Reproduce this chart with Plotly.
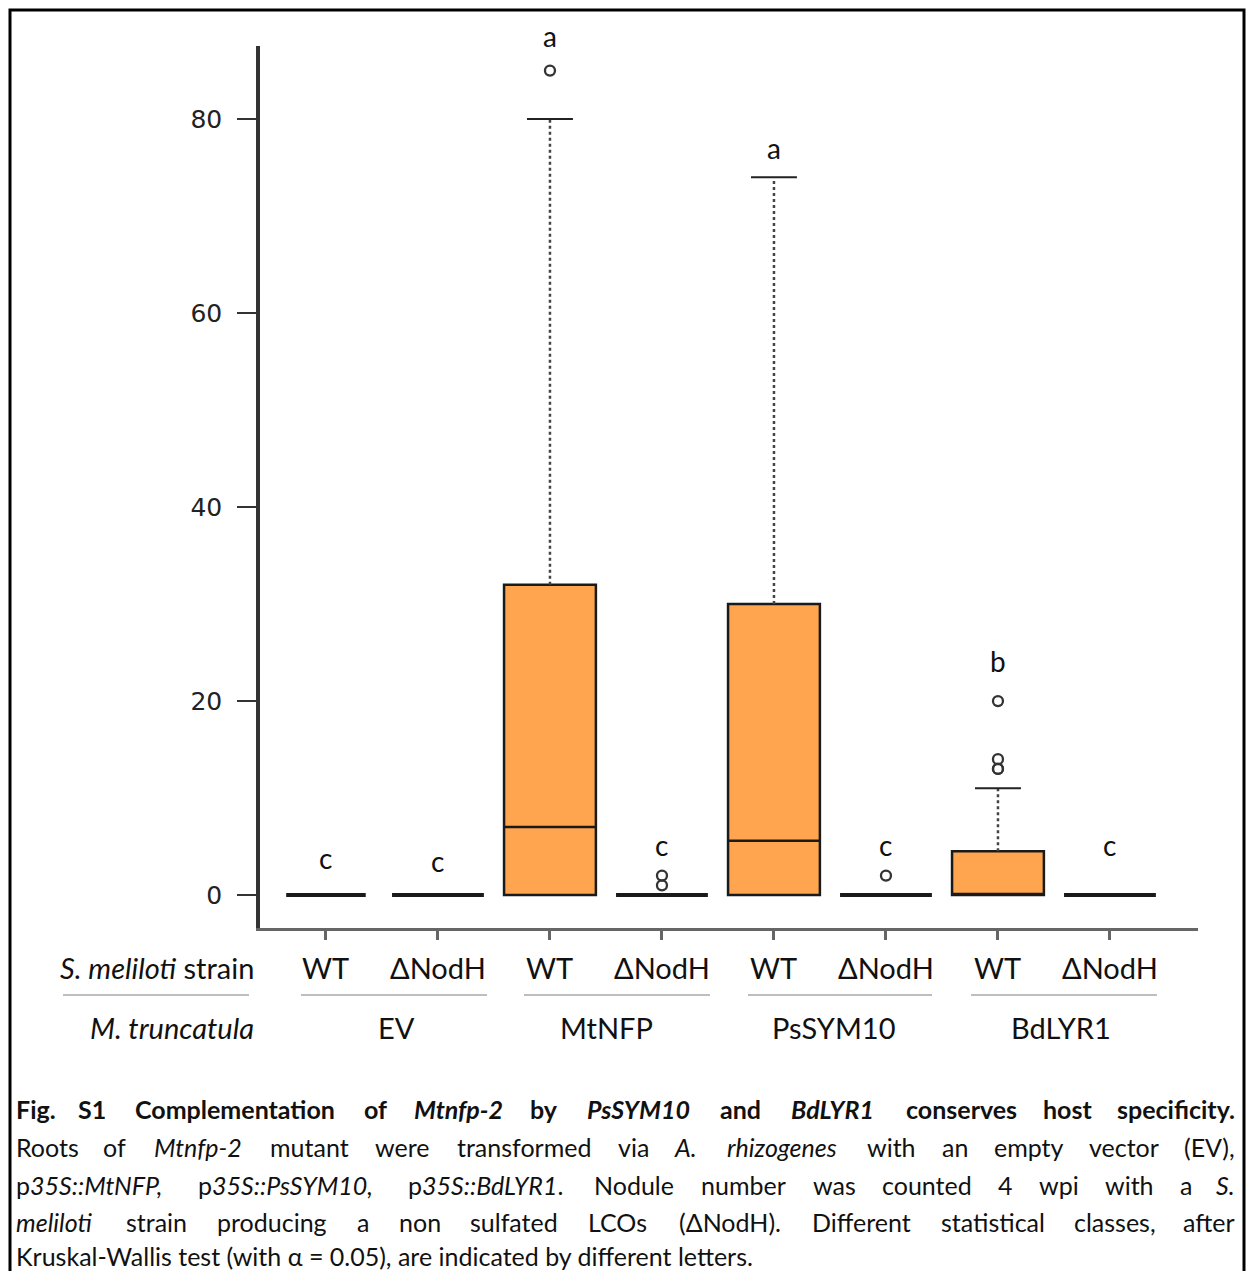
import re
import plotly.graph_objects as go

# ---------------- data ----------------
strains = ["WT", "ΔNodH", "WT", "ΔNodH", "WT", "ΔNodH", "WT", "ΔNodH"]
constructs = ["EV", "MtNFP", "PsSYM10", "BdLYR1"]
q1 = [0, 0, 0, 0, 0, 0, 0, 0]
median = [0, 0, 7, 0, 5.6, 0, 0, 0]
q3 = [0, 0, 32, 0, 30, 0, 4.5, 0]
upper_whisker = [0, 0, 80, 0, 74, 0, 11, 0]
outliers = [[], [], [85], [1, 2], [], [2], [13, 13, 14, 20], []]
letters = ["c", "c", "a", "c", "a", "c", "b", "c"]
y_ticks = [0, 20, 40, 60, 80]

# ---------------- layout helpers ----------------
W, H = 1247, 1271
L, R, T, B = 260, 49, 46, 343
PW, PH = W - L - R, H - T - B
YMIN, YMAX = -3.40, 87.53
def px(x):
    return (x - L) / PW
def py(y):
    return (H - B - y) / PH
def ydata_to_paper(v):
    return (v - YMIN) / (YMAX - YMIN)

letter_y = [3.8, 3.5, 88.6, 5.2, 77.0, 5.2, 24.1, 5.2]
box_width = [0.71, 0.82, 0.82, 0.82, 0.82, 0.82, 0.82, 0.82]
FILL = "#FFA54F"
FONT = "Lato"

fig = go.Figure()
xs = list(range(1, len(strains) + 1))

for i, x in enumerate(xs):
    flat = q3[i] == q1[i]
    fig.add_trace(go.Box(
        x=[x], q1=[q1[i]], median=[median[i]], q3=[q3[i]],
        lowerfence=[q1[i]], upperfence=[q3[i]],
        width=box_width[i], fillcolor=FILL,
        line=dict(color="#1a1a1a", width=4 if flat else 2.5),
        boxpoints=False, showlegend=False, hoverinfo="skip",
    ))
    if upper_whisker[i] > q3[i]:
        fig.add_trace(go.Scatter(
            x=[x, x], y=[q3[i], upper_whisker[i]], mode="lines",
            line=dict(color="#444", width=2.5, dash="dot"),
            showlegend=False, hoverinfo="skip"))
        fig.add_trace(go.Scatter(
            x=[x - box_width[i] / 4, x + box_width[i] / 4],
            y=[upper_whisker[i], upper_whisker[i]], mode="lines",
            line=dict(color="#222", width=2),
            showlegend=False, hoverinfo="skip"))
    if outliers[i]:
        fig.add_trace(go.Scatter(
            x=[x] * len(outliers[i]), y=outliers[i], mode="markers",
            marker=dict(symbol="circle-open", size=10, color="#333",
                        line=dict(width=2.3, color="#333")),
            showlegend=False, hoverinfo="skip", cliponaxis=False))
    fig.add_annotation(x=x, y=ydata_to_paper(letter_y[i]), xref="x", yref="paper",
                       text=letters[i], showarrow=False, xanchor="center",
                       font=dict(family=FONT, size=28, color="#111"),
                       yanchor="middle")

# strain labels row
for i, x in enumerate(xs):
    fig.add_annotation(x=x, y=py(968), xref="x", yref="paper", text=strains[i],
                       showarrow=False, xanchor="center",
                       font=dict(family=FONT, size=29, color="#111"),
                       yanchor="middle")
fig.add_annotation(x=px(256), y=py(968), xref="paper", yref="paper",
                   text="<i>S. meliloti</i> strain", xanchor="right", yanchor="middle",
                   showarrow=False, font=dict(family=FONT, size=29, color="#111"))
fig.add_annotation(x=px(256), y=py(1027), xref="paper", yref="paper",
                   text="<i>M. truncatula</i>", xanchor="right", yanchor="middle",
                   showarrow=False, font=dict(family=FONT, size=29, color="#111"))
group_px = [396, 606, 834, 1061]
for g, gx in zip(constructs, group_px):
    fig.add_annotation(x=px(gx), y=py(1027), xref="paper", yref="paper", text=g,
                       xanchor="center", yanchor="middle", showarrow=False,
                       font=dict(family=FONT, size=29, color="#111"))

# separator lines
for a, b in [(63, 249), (301, 487), (524, 710), (748, 932), (971, 1157)]:
    fig.add_shape(type="line", xref="paper", yref="paper", x0=px(a), x1=px(b),
                  y0=py(995), y1=py(995), line=dict(color="#a8a8a8", width=1.5))

# ---------------- caption (justified) ----------------
caption = [
    "<b>Fig.</b> <b>S1</b> <b>Complementation</b> <b>of</b> <b><i>Mtnfp-2</i></b> <b>by</b> <b><i>PsSYM10</i></b> <b>and</b> <b><i>BdLYR1</i></b> <b>conserves</b> <b>host</b> <b>specificity.</b>",
    "Roots of <i>Mtnfp-2</i> mutant were transformed via <i>A.</i> <i>rhizogenes</i> with an empty vector (EV),",
    "p<i>35S::MtNFP,</i> p<i>35S::PsSYM10,</i> p<i>35S::BdLYR1</i>. Nodule number was counted 4 wpi with a <i>S.</i>",
    "<i>meliloti</i> strain producing a non sulfated LCOs (ΔNodH). Different statistical classes, after",
    "Kruskal-Wallis test (with α = 0.05), are indicated by different letters.",
]
justify = [True, True, True, True, False]
cap_y = [1109, 1147, 1185, 1222, 1256]
CAP_SIZE = 25
CAP_LEFT, CAP_RIGHT = 14, 1237

CW = dict(a=.49, b=.55, c=.45, d=.55, e=.51, f=.32, g=.50, h=.55, i=.24, j=.24,
          k=.50, l=.24, m=.83, n=.55, o=.55, p=.55, q=.55, r=.37, s=.42, t=.35,
          u=.55, v=.50, w=.76, x=.48, y=.50, z=.44,
          A=.68, B=.64, C=.67, D=.74, E=.56, F=.54, G=.72, H=.75, I=.28, J=.39,
          K=.66, L=.50, M=.90, N=.75, O=.79, P=.60, Q=.79, R=.63, S=.52, T=.58,
          U=.72, V=.67, W=1.0, X=.65, Y=.62, Z=.60)
PUNCT = {".": .2, ",": .2, ":": .22, "(": .3, ")": .3, "-": .34, "=": .58,
         "Δ": .68, "α": .55, " ": .19}
def est_width(word, size):
    bold = "<b>" in word
    plain = re.sub(r"<[^>]+>", "", word)
    w = 0.0
    for ch in plain:
        if ch.isdigit():
            w += .58
        else:
            w += CW.get(ch, PUNCT.get(ch, .5))
    return w * size * 1.03 * (1.05 if bold else 1.0)

for t, yy, j in zip(caption, cap_y, justify):
    if not j:
        fig.add_annotation(x=px(CAP_LEFT), y=py(yy), xref="paper", yref="paper", text=t,
                           xanchor="left", yanchor="middle", showarrow=False,
                           font=dict(family=FONT, size=CAP_SIZE, color="#111"))
        continue
    words = t.split(" ")
    widths = [est_width(wd, CAP_SIZE) for wd in words]
    gap = (CAP_RIGHT - CAP_LEFT - sum(widths)) / (len(words) - 1)
    pos = CAP_LEFT
    for k, (wd, w) in enumerate(zip(words, widths)):
        if k == 0:
            xa, xp = "left", CAP_LEFT
        elif k == len(words) - 1:
            xa, xp = "right", CAP_RIGHT
        else:
            xa, xp = "center", pos + w / 2
        fig.add_annotation(x=px(xp), y=py(yy), xref="paper", yref="paper", text=wd,
                           xanchor=xa, yanchor="middle", showarrow=False,
                           font=dict(family=FONT, size=CAP_SIZE, color="#111"))
        pos += w + gap

# outer frame (left, top, right)
fig.add_shape(type="rect", xref="paper", yref="paper", x0=px(10), x1=px(1244),
              y0=py(1300), y1=py(10), line=dict(color="black", width=3),
              fillcolor="rgba(0,0,0,0)", layer="below")

fig.update_layout(
    width=W, height=H, margin=dict(l=L, r=R, t=T, b=B, autoexpand=False),
    paper_bgcolor="white", plot_bgcolor="white",
    xaxis=dict(range=[0.411, 8.786], tickvals=xs, showticklabels=False,
               ticks="outside", ticklen=9, tickwidth=3, tickcolor="#666",
               showline=True, linecolor="#666", linewidth=3,
               showgrid=False, zeroline=False),
    yaxis=dict(range=[YMIN, YMAX], tickvals=y_ticks,
               ticks="outside", ticklen=19, tickwidth=2, tickcolor="#333",
               showline=True, linecolor="#333", linewidth=3.5,
               showgrid=False, zeroline=False, ticklabelstandoff=10,
               tickfont=dict(family="DejaVu Sans", size=25, color="#222")),
)

fig.write_html(
    "out.html",
    config={"displayModeBar": False},
    post_script="document.body.style.margin='0';document.body.style.overflow='hidden';",
)
